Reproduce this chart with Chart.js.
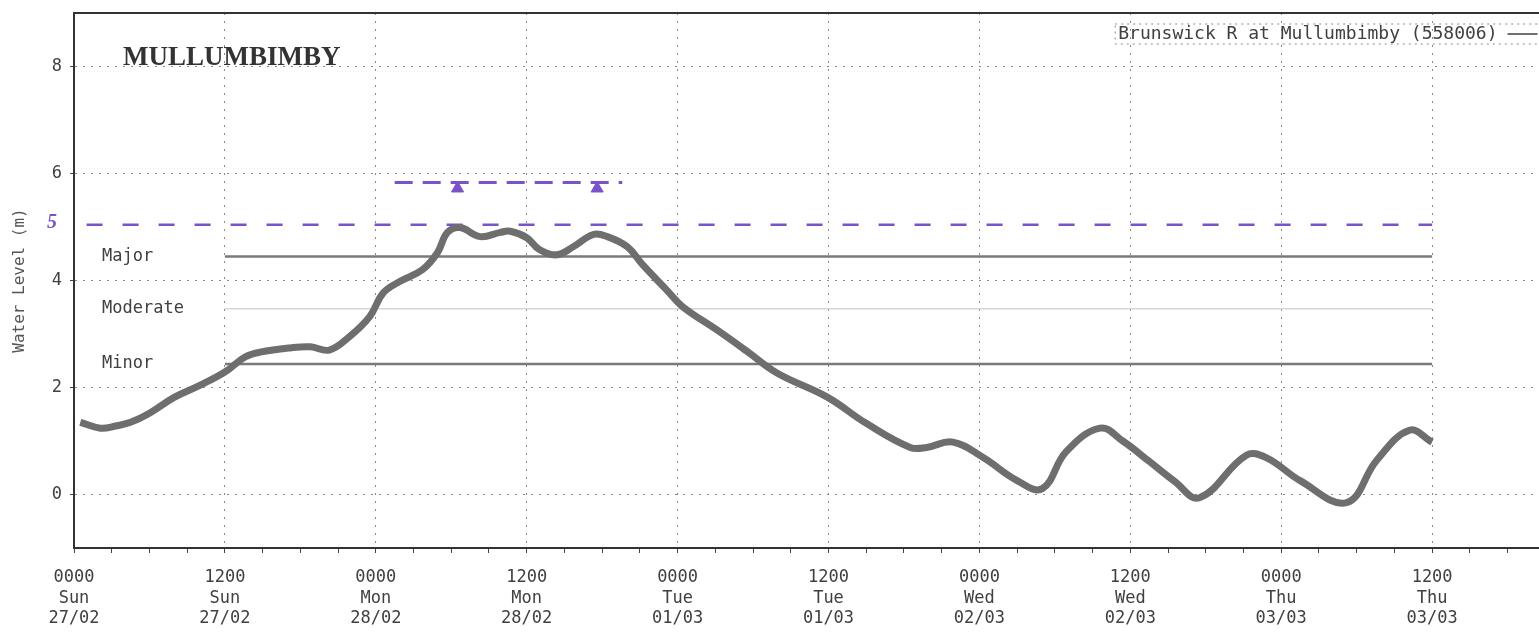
<!DOCTYPE html>
<html>
<head>
<meta charset="utf-8">
<title>Brunswick R at Mullumbimby</title>
<script src="https://cdn.jsdelivr.net/npm/chart.js@4.4.1/dist/chart.umd.min.js"></script>
<style>
  html, body { margin: 0; padding: 0; background: #fff; }
  #wrap { position: relative; width: 1539px; height: 642px; }
</style>
</head>
<body>
<div id="wrap"><canvas id="river-chart"></canvas></div>
<script>
'use strict';
// ***** DATA *****
let stationTitle = 'MULLUMBIMBY';
let seriesName = 'Brunswick R at Mullumbimby (558006)';

// hours since 0000 Sun 27/02, water level (m)
let hours = [0.5, 2.1, 3.3, 4.5, 6.0, 8.0, 10.0, 12.0, 13.6, 14.8, 17.2, 18.8, 20.3, 21.9, 23.5, 24.6,
  25.9, 27.7, 28.9, 29.7, 30.7, 32.3, 33.9, 34.7, 36.0, 37.0, 38.4, 39.7, 41.3, 42.4, 44.0, 45.2,
  47.1, 48.4, 51.1, 53.5, 55.9, 59.9, 63.0, 66.5, 67.8, 69.9, 72.3, 75.0, 77.0, 78.9, 81.6, 83.4,
  85.5, 87.5, 89.5, 93.2, 94.8, 97.5, 101.2, 103.6, 106.2, 108.0];
let levels = [1.35, 1.24, 1.28, 1.35, 1.52, 1.82, 2.04, 2.29, 2.57, 2.66, 2.74, 2.76, 2.70, 2.95, 3.32, 3.77,
  3.98, 4.20, 4.52, 4.90, 4.99, 4.82, 4.90, 4.92, 4.80, 4.58, 4.48, 4.63, 4.86, 4.82, 4.63, 4.30,
  3.83, 3.51, 3.08, 2.68, 2.27, 1.82, 1.33, 0.88, 0.88, 0.98, 0.69, 0.26, 0.11, 0.80, 1.24, 1.00,
  0.62, 0.25, -0.06, 0.73, 0.69, 0.26, -0.15, 0.64, 1.20, 0.98];

// flood classification levels
let floodNames = ['Major', 'Moderate', 'Minor'];
let floodLevels = [4.45, 3.47, 2.44];
let floodSpan = [12, 108];

// hand drawn marks (purple pen)
let penLevel = 5.04;
let penSpan = [1, 108];
let penLabel = '5';
let penUpperLevel = 5.83;
let penUpperSpan = [25.5, 43.6];
let penMarkHours = [30.5, 41.6];
let penMarkLevels = [5.72, 5.72];

// axes
let tickHours = [0, 12, 24, 36, 48, 60, 72, 84, 96, 108];
let tickTimes = ['0000', '1200', '0000', '1200', '0000', '1200', '0000', '1200', '0000', '1200'];
let tickDays = ['Sun', 'Sun', 'Mon', 'Mon', 'Tue', 'Tue', 'Wed', 'Wed', 'Thu', 'Thu'];
let tickDates = ['27/02', '27/02', '28/02', '28/02', '01/03', '01/03', '02/03', '02/03', '03/03', '03/03'];
let levelTicks = [0, 2, 4, 6, 8];

// ***** HELPERS *****
function toPoints(xs, ys) {
  return xs.map((x, i) => ({ x: x, y: ys[i] }));
}

function flatLine(level, span) {
  return [{ x: span[0], y: level }, { x: span[1], y: level }];
}

const monoFont = '"DejaVu Sans Mono", monospace';
const inkColor = '#404040';
const penColor = '#7a52c9';

// ***** DATASETS *****
let chartDatasets = [
  {
    label: seriesName,
    data: toPoints(hours, levels),
    borderColor: '#6e6e6e',
    borderWidth: 7,
    pointRadius: 0,
    tension: 0.4,
    order: 1
  }
];

floodLevels.forEach((level, i) => {
  chartDatasets.push({
    label: floodNames[i],
    data: flatLine(level, floodSpan),
    borderColor: floodNames[i] === 'Moderate' ? '#d6d6d6' : '#7a7a7a',
    borderWidth: floodNames[i] === 'Moderate' ? 1.5 : 2.5,
    pointRadius: 0,
    order: 3
  });
});

chartDatasets.push({
  label: 'pen',
  data: flatLine(penLevel, penSpan),
  borderColor: penColor,
  borderWidth: 2.5,
  borderDash: [16, 20],
  pointRadius: 0,
  order: 2
});
chartDatasets.push({
  label: 'pen upper',
  data: flatLine(penUpperLevel, penUpperSpan),
  borderColor: penColor,
  borderWidth: 3,
  borderDash: [18, 10],
  pointRadius: 0,
  order: 2
});
chartDatasets.push({
  label: 'pen marks',
  data: toPoints(penMarkHours, penMarkLevels),
  showLine: false,
  pointStyle: 'triangle',
  pointRadius: 7,
  backgroundColor: penColor,
  borderColor: penColor,
  order: 2
});

// ***** TEXT PLUGIN *****
const annotationPlugin = {
  id: 'annotations',
  afterDraw(chart) {
    let { ctx, chartArea, scales } = chart;
    let x = scales.x;
    let y = scales.y;
    ctx.save();

    // top frame line
    ctx.strokeStyle = '#333';
    ctx.lineWidth = 2;
    ctx.beginPath();
    ctx.moveTo(chartArea.left, chartArea.top);
    ctx.lineTo(chartArea.right, chartArea.top);
    ctx.stroke();

    // station title
    ctx.fillStyle = '#333';
    ctx.font = 'bold 27px "Liberation Serif", serif';
    ctx.textBaseline = 'middle';
    ctx.textAlign = 'left';
    ctx.fillText(stationTitle, chartArea.left + 49, chartArea.top + 45);

    // flood level names
    ctx.font = '17px ' + monoFont;
    ctx.fillStyle = inkColor;
    floodNames.forEach((name, i) => {
      ctx.fillText(name, chartArea.left + 28, y.getPixelForValue(floodLevels[i]));
    });

    // pen label near the axis
    ctx.fillStyle = penColor;
    ctx.font = 'italic bold 20px "Liberation Serif", serif';
    ctx.textAlign = 'center';
    ctx.fillText(penLabel, chartArea.left - 22, y.getPixelForValue(penLevel) - 2);

    // legend box
    let boxLeft = x.getPixelForValue(82.8);
    let boxTop = chartArea.top + 11;
    ctx.strokeStyle = '#8a8a8a';
    ctx.lineWidth = 1;
    ctx.setLineDash([2, 4]);
    ctx.strokeRect(boxLeft, boxTop, chartArea.right - boxLeft + 5, 20);
    ctx.setLineDash([]);
    ctx.fillStyle = inkColor;
    ctx.font = '18px ' + monoFont;
    ctx.textAlign = 'left';
    ctx.fillText(seriesName, boxLeft + 3, boxTop + 10);
    let sampleLeft = boxLeft + 3 + ctx.measureText(seriesName).width + 10;
    ctx.strokeStyle = '#6e6e6e';
    ctx.lineWidth = 2;
    ctx.beginPath();
    ctx.moveTo(sampleLeft, boxTop + 10);
    ctx.lineTo(sampleLeft + 30, boxTop + 10);
    ctx.stroke();

    ctx.restore();
  }
};

// ***** CHART *****
let chartConfig = {
  type: 'line',
  data: { datasets: chartDatasets },
  options: {
    responsive: true,
    maintainAspectRatio: false,
    animation: false,
    layout: { autoPadding: false, padding: { top: 13, right: 0, left: 0, bottom: 0 } },
    plugins: {
      legend: { display: false },
      tooltip: { enabled: false }
    },
    scales: {
      x: {
        type: 'linear',
        min: 0,
        max: 116.5,
        afterFit: (axis) => {
          axis.height = 94;
          axis.paddingLeft = 0;
          axis.paddingRight = 0;
        },
        afterBuildTicks: (axis) => {
          let ticks = [];
          for (let h = 0; h <= 114; h += 3) ticks.push({ value: h });
          axis.ticks = ticks;
        },
        ticks: {
          autoSkip: false,
          maxRotation: 0,
          padding: 14,
          color: inkColor,
          font: { family: monoFont, size: 17, lineHeight: 1.22 },
          callback: (value) => {
            let i = tickHours.indexOf(value);
            return i === -1 ? '' : [tickTimes[i], tickDays[i], tickDates[i]];
          }
        },
        grid: {
          color: (c) => (c.tick && c.tick.value % 12 === 0 && c.tick.value > 0) ? '#8a8a8a' : 'rgba(0,0,0,0)',
          lineWidth: 1,
          tickColor: '#444',
          tickLength: 5,
          tickBorderDash: []
        },
        border: { color: '#333', width: 2, dash: [2, 6] }
      },
      y: {
        type: 'linear',
        min: -1,
        max: 9,
        afterFit: (axis) => {
          axis.width = 74;
          axis.paddingTop = 0;
          axis.paddingBottom = 0;
        },
        afterBuildTicks: (axis) => {
          axis.ticks = levelTicks.map((v) => ({ value: v }));
        },
        title: {
          display: true,
          text: 'Water Level (m)',
          color: '#555',
          font: { family: monoFont, size: 16 },
          padding: { top: 10, bottom: 4 }
        },
        ticks: {
          color: inkColor,
          padding: 8,
          font: { family: monoFont, size: 17 }
        },
        grid: {
          color: '#8a8a8a',
          lineWidth: 1,
          tickColor: '#444',
          tickLength: 4,
          tickBorderDash: []
        },
        border: { color: '#333', width: 2, dash: [2, 6] }
      }
    }
  },
  plugins: [annotationPlugin]
};

new Chart(document.getElementById('river-chart'), chartConfig);
</script>
</body>
</html>
